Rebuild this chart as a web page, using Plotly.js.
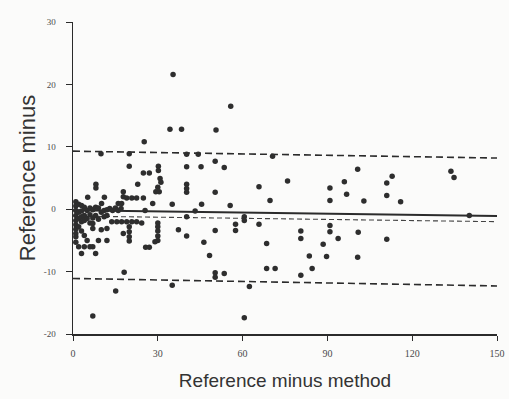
<!DOCTYPE html>
<html>
<head>
<meta charset="utf-8">
<script src="https://cdn.plot.ly/plotly-3.0.1.min.js"></script>
<style>html,body{margin:0;padding:0;background:#fbfbfa;}#chart{width:509px;height:399px;}</style>
</head>
<body>
<div id="chart"></div>
<script>
// Scatter points (x = reference minus method, y = reference minus)
const pointX = [
  35.4,55.8,34.3,38.4,50.6,25.2,
  9.9,19.9,40.2,44.3,70.6,
  19.9,24.9,27.0,30.2,30.2,30.8,31.1,40.2,45.3,50.3,53.5,
  8.1,8.1,22.9,30.0,29.3,30.5,40.2,40.2,40.2,50.3,65.8,69.7,
  5.2,11.1,17.8,17.8,19.0,20.8,22.5,24.9,
  10.1,16.0,17.2,28.2,35.1,45.5,55.6,
  25.5,43.2,40.2,60.6,60.6,65.8,57.5,57.5,
  13.7,15.5,17.2,19.0,20.8,22.5,24.3,
  19.9,19.9,19.9,19.9,17.8,
  30.0,30.0,30.0,30.0,30.0,29.0,
  25.7,27.0,37.3,40.2,46.3,50.3,48.3,
  50.3,50.3,53.5,68.5,68.5,71.5,62.4,60.6,35.1,18.1,15.1,7.0,
  75.9,100.7,96.0,90.9,90.9,96.8,102.9,111.0,112.9,111.0,115.9,133.7,134.8,140.2,
  80.6,80.6,90.9,90.9,93.8,100.9,111.0,88.5,83.6,89.7,100.7,84.6,80.6,
  1,1,1,1,1,1,1,1,1,1,
  2,2,2,2,2,
  3,3,3,3,3,3,
  4,4,4,4,4,
  5,5,5,
  6,6,6,6,
  7,7,7,7,7,
  8,8,8,
  9,9,9,
  10,10,
  11,11,
  12,12,12,12,
  13,14,15,16,17
];
const pointY = [
  21.6,16.5,12.8,12.8,12.7,10.8,
  8.9,8.9,8.8,8.8,8.5,
  6.9,5.8,5.8,6.9,6.2,4.9,4.3,6.8,6.8,7.7,6.7,
  4.0,3.4,4.0,3.5,2.8,2.8,4.0,3.3,2.7,2.7,3.6,1.4,
  1.9,1.9,2.8,2.0,1.8,1.8,1.8,1.8,
  0.9,0.9,0.9,0.9,0.8,0.8,0.6,
  -0.2,-0.3,-1.2,-1.2,-1.8,-2.4,-2.4,-3.4,
  -2.0,-2.0,-2.0,-2.0,-2.0,-2.0,-2.2,
  -2.8,-3.6,-4.4,-5.1,-3.9,
  -2.2,-2.8,-3.5,-4.3,-5.0,-5.2,
  -6.1,-6.1,-3.3,-4.3,-5.3,-3.4,-7.4,
  -10.2,-10.9,-10.3,-5.5,-9.5,-9.5,-12.4,-17.4,-12.2,-10.1,-13.1,-17.1,
  4.5,6.4,4.4,3.4,1.4,2.4,1.3,4.2,5.3,2.2,1.2,6.1,5.1,-1.0,
  -3.5,-4.7,-2.6,-3.6,-4.7,-3.7,-4.8,-5.6,-7.5,-7.6,-7.7,-9.5,-10.6,
  1.2,0.5,-0.2,-1.0,-1.8,-2.5,-3.2,-3.9,-4.4,-5.3,
  0.8,-0.5,-1.5,-2.8,-6.0,
  0.6,-0.3,-1.2,-2.0,-3.5,-7.1,
  0.3,-1.0,-1.8,-4.2,-6.0,
  -0.2,-1.5,-5.0,
  0.2,-0.9,-2.2,-6.0,
  -0.1,-1.4,-2.3,-3.1,-6.0,
  0.3,-1.0,-7.1,
  0.2,-1.6,-5.0,
  -0.5,-3.3,
  -0.2,-1.2,
  -0.1,-1.0,-3.1,-5.0,
  0.1,-0.2,0.2,-0.2,0.1
];

// Reference lines (values at x = 0 and x = 150)
const lineX = [0, 150];
const meanLine = [-0.15, -1.07];
const upperLimit = [9.3, 8.2];
const innerLine = [-1.1, -2.0];
const lowerLimit = [-11.1, -12.3];

const xTicks = [0, 30, 60, 90, 120, 150];
const yTicks = [-20, -10, 0, 10, 20, 30];

const ink = '#2b2b2b';
const traces = [
  {x: lineX, y: upperLimit, mode: 'lines', line: {color: ink, width: 1.6, dash: '7px,4px'}, hoverinfo: 'skip'},
  {x: lineX, y: lowerLimit, mode: 'lines', line: {color: ink, width: 1.6, dash: '7px,4px'}, hoverinfo: 'skip'},
  {x: lineX, y: innerLine, mode: 'lines', line: {color: '#444', width: 1.1, dash: '5px,3px'}, hoverinfo: 'skip'},
  {x: lineX, y: meanLine, mode: 'lines', line: {color: ink, width: 2}, hoverinfo: 'skip'},
  {x: pointX, y: pointY, mode: 'markers', marker: {color: '#2e2e2e', size: 5.5}, hoverinfo: 'skip'}
];

const layout = {
  width: 509, height: 399,
  margin: {l: 73, r: 12, t: 22, b: 65},
  paper_bgcolor: '#fbfbfa', plot_bgcolor: '#fbfbfa',
  showlegend: false,
  xaxis: {
    range: [0, 150], tickvals: xTicks, ticktext: xTicks.map(String),
    showgrid: false, zeroline: false, showline: true, linecolor: ink, linewidth: 1.5,
    ticks: 'outside', ticklen: 5, tickcolor: ink, ticklabelstandoff: 4,
    tickfont: {family: 'Liberation Serif, serif', size: 10, color: '#4a4a4a'},
    title: {text: 'Reference minus method', font: {family: 'Liberation Sans, Arial, sans-serif', size: 19, color: '#333'}, standoff: 16}
  },
  yaxis: {
    range: [-20, 30], tickvals: yTicks, ticktext: yTicks.map(String),
    showgrid: false, zeroline: false, showline: true, linecolor: ink, linewidth: 1.5,
    ticks: 'outside', ticklen: 6, tickcolor: ink, ticklabelstandoff: 8,
    tickfont: {family: 'Liberation Serif, serif', size: 9, color: '#4a4a4a'},
    title: {text: 'Reference minus', font: {family: 'Liberation Sans, Arial, sans-serif', size: 22, color: '#333'}, standoff: 2}
  }
};

Plotly.newPlot('chart', traces, layout, {staticPlot: true, displayModeBar: false});
</script>
</body>
</html>
